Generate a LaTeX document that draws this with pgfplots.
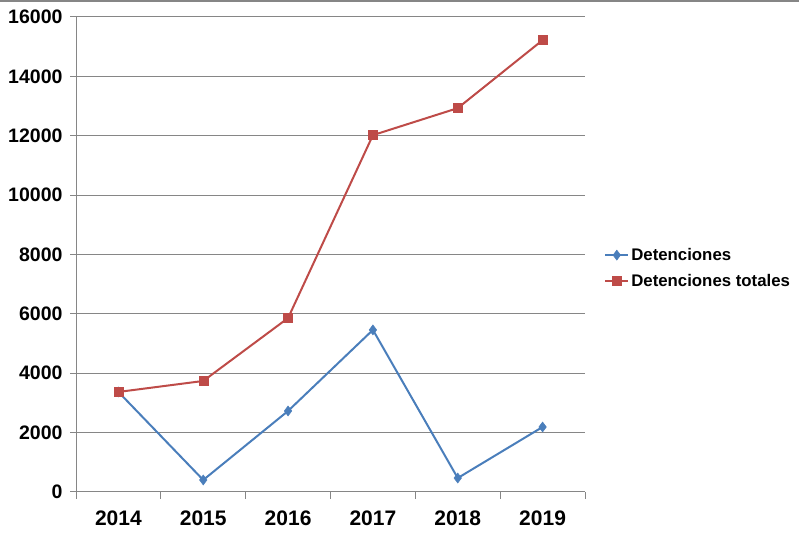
\documentclass[border=0pt]{standalone}
\usepackage{pgfplots}
\pgfplotsset{compat=1.18}
\usepackage{fontspec}
\setmainfont{Liberation Sans}
\definecolor{gridgray}{HTML}{868686}
\definecolor{bluel}{HTML}{4A7EBB}
\definecolor{redl}{HTML}{BE4B48}
\begin{document}
\begin{tikzpicture}[x=1pt,y=1pt]
\path[use as bounding box] (0,0) rectangle (799,537);
\draw[gridgray, line width=1.2pt] (0,536) -- (799,536);
\begin{axis}[
  at={(76pt,45pt)}, anchor=south west,
  scale only axis, width=509pt, height=475pt,
  xmin=-0.5, xmax=5.5, ymin=0, ymax=16000,
  axis x line*=bottom, axis y line*=left,
  axis line style={gridgray, line width=1pt, -},
  xtick={0,...,5},
  xticklabels={2014,2015,2016,2017,2018,2019},
  minor xtick={-0.5,0.5,1.5,2.5,3.5,4.5,5.5},
  major x tick style={draw=none},
  minor x tick style={gridgray, line width=1pt},
  minor tick length=7pt,
  ytick={0,2000,...,16000},
  y tick style={gridgray, line width=1pt},
  major tick length=6pt,
  tick align=outside,
  ymajorgrids,
  grid style={gridgray, line width=1pt},
  /pgf/number format/assume math mode=true,
  yticklabel style={font=\fontsize{19.5}{21}\selectfont\bfseries, xshift=-4pt},
  xticklabel style={font=\fontsize{21}{23}\selectfont\bfseries, yshift=-9pt},
  scaled y ticks=false,
  yticklabel={\pgfmathprintnumber[1000 sep={},fixed]{\tick}},
  legend style={at={(1.0375,0.4716)}, anchor=west, draw=none, fill=none,
    font=\fontsize{16.8}{18}\selectfont\bfseries, row sep=8pt, inner sep=0pt,
    /tikz/every even column/.append style={column sep=0pt}},
  legend cell align=left,
  legend image code/.code={\draw[#1, mark repeat=2, mark phase=2] plot coordinates {(0pt,0pt) (11.5pt,0pt) (23pt,0pt)};},
]
\addplot[bluel, line width=2pt, mark=diamond*, mark size=5pt, mark options={solid, fill=bluel, line width=0.5pt}]
  coordinates {(0,3370) (1,405) (2,2730) (3,5460) (4,470) (5,2190)};
\addlegendentry{Detenciones}
\addplot[redl, line width=2pt, mark=square*, mark size=4.5pt, mark options={solid, fill=redl, line width=0.5pt}]
  coordinates {(0,3370) (1,3740) (2,5860) (3,12020) (4,12930) (5,15220)};
\addlegendentry{Detenciones totales}
\end{axis}
\end{tikzpicture}
\end{document}
